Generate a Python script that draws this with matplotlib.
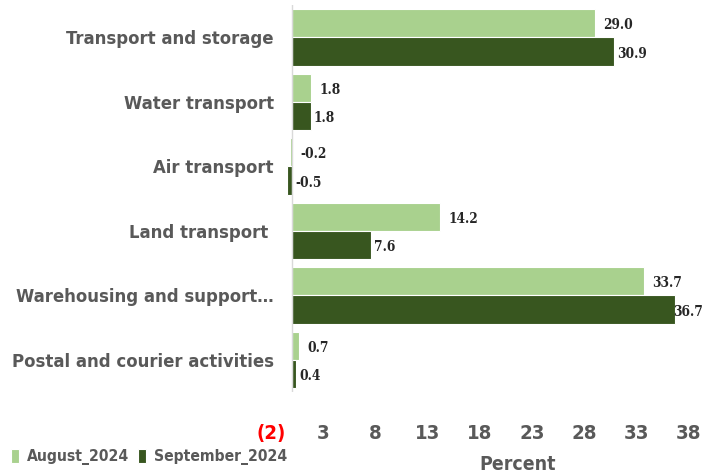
import matplotlib
matplotlib.use("Agg")
import matplotlib.pyplot as plt
from matplotlib import font_manager as fm
from matplotlib.font_manager import FontProperties

categories = ["Transport and storage", "Water transport", "Air transport",
              "Land transport ", "Warehousing and support…", "Postal and courier activities"]
aug_2024 = [29.0, 1.8, -0.2, 14.2, 33.7, 0.7]
sep_2024 = [30.9, 1.8, -0.5, 7.6, 36.7, 0.4]
series_names = ["August_2024", "September_2024"]
xticks = [-2, 3, 8, 13, 18, 23, 28, 33, 38]
xtick_labels = ["(2)", "3", "8", "13", "18", "23", "28", "33", "38"]


def find_font(keys, bold=True, serif=False):
    for f in fm.fontManager.ttflist:
        fn = f.fname.lower()
        if any(k in fn for k in keys):
            if bold and "bold" not in fn and f.weight not in ("bold", 700):
                continue
            if "oblique" in fn or "italic" in fn:
                continue
            if serif != ("serif" in fn and "sans" not in fn):
                continue
            return f.fname
    return None

cond = find_font(["narrow", "condensed"])
if cond:
    sans_fp = lambda s: FontProperties(fname=cond, size=s)
else:
    sans_fp = lambda s: FontProperties(family="Liberation Sans", weight="bold", size=s)
cond_serif = find_font(["condensed", "narrow"], serif=True)
if cond_serif:
    serif_fp = lambda s: FontProperties(fname=cond_serif, size=s)
else:
    serif_fp = lambda s: FontProperties(family="Liberation Serif", weight="bold", size=s)

light = "#A9D18E"
dark = "#38561F"
gray = "#595959"

fig = plt.figure(figsize=(7.03, 4.76), dpi=100)
ax = fig.add_axes([0.3855, 0.176, 0.594, 0.813])

# fit font sizes to reference text widths
r = fig.canvas.get_renderer()
t = fig.text(0, 0, categories[-1], fontproperties=sans_fp(20))
w = t.get_window_extent(r).width
t.remove()
cat_size = min(20, 20 * 263 / w)

t = fig.text(0, 0, "29.0", fontproperties=serif_fp(14))
w = t.get_window_extent(r).width
t.remove()
lab_size = min(15, 14 * 30 / w)

n = len(categories)
ys = list(range(n))
h = 0.44
ax.barh([y - h / 2 for y in ys], aug_2024, height=h, color=light, edgecolor="white", linewidth=0.8, label=series_names[0])
ax.barh([y + h / 2 for y in ys], sep_2024, height=h, color=dark, edgecolor="white", linewidth=0.8, label=series_names[1])

ax.set_xlim(-2, 38)
ax.set_ylim(n - 0.5, -0.5)

labels = []
for y, v in zip(ys, aug_2024):
    labels.append(ax.text(max(v, 0) + 0.8, y - h / 2 + 0.03, f"{v:.1f}", va="center", ha="left",
                          fontproperties=serif_fp(lab_size), color="#262626"))
for y, v in zip(ys, sep_2024):
    labels.append(ax.text(max(v, 0) + 0.3, y + h / 2 + 0.03, f"{v:.1f}", va="center", ha="left",
                          fontproperties=serif_fp(lab_size), color="#262626"))

ax.axvline(0, color="#D9D9D9", linewidth=1)
for s in ax.spines.values():
    s.set_visible(False)

ax.set_yticks(ys)
ax.set_yticklabels(categories, fontproperties=sans_fp(cat_size), color=gray)
ax.tick_params(axis="y", length=0, pad=-2)

ax.set_xticks(xticks)
ax.set_xticklabels(xtick_labels, fontproperties=sans_fp(cat_size * 1.1), color=gray)
ax.tick_params(axis="x", length=0, pad=23)
ax.get_xticklabels()[0].set_color("red")

fig.text(518 / 703, 1 - 465 / 476, "Percent", ha="center", va="center",
         fontproperties=sans_fp(cat_size * 1.05), color=gray)

leg = fig.legend(loc="lower left", bbox_to_anchor=(0.0, 0.0), ncol=2, frameon=False,
                 prop=sans_fp(cat_size * 0.85),
                 handlelength=0.5, handleheight=1.0, handletextpad=0.5, columnspacing=0.6,
                 borderaxespad=0.3)
for t in leg.get_texts():
    t.set_color(gray)

# keep data labels inside the figure (nudge left if they would be cut off)
fig.canvas.draw()
W = fig.bbox.width
for t in labels:
    bb = t.get_window_extent(r)
    if bb.x1 > W:
        x_disp, y_disp = ax.transData.transform(t.get_position())
        t.set_position(ax.transData.inverted().transform((x_disp - (bb.x1 - W), y_disp)))

fig.savefig("out.png", dpi=100)
